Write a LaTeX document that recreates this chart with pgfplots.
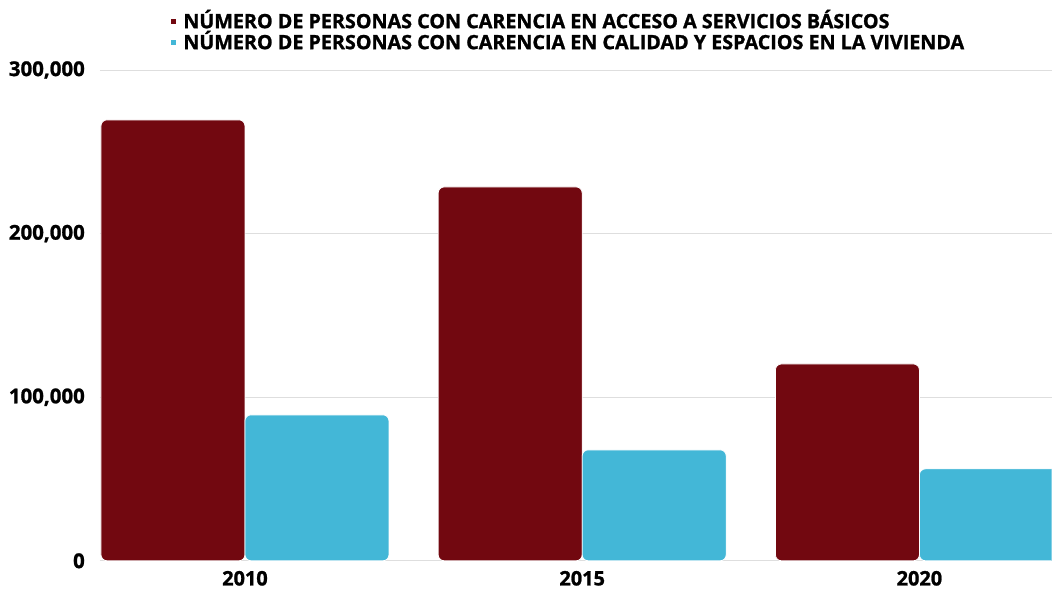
\documentclass[border=0pt]{standalone}
\usepackage{fontspec}
\setmainfont{Open Sans}[BoldFeatures={FakeBold=1.2}]
\usepackage{pgfplots}
\pgfplotsset{compat=1.18}
\definecolor{cred}{HTML}{720810}
\definecolor{cblue}{HTML}{43B7D7}
\begin{document}
\begin{tikzpicture}
\begin{axis}[
  scale only axis, width=952bp, height=491bp,
  xmin=-0.43, xmax=2.392, ymin=0, ymax=300000,
  axis line style={draw=none},
  major tick length=0pt,
  ytick={0,100000,200000,300000},
  yticklabels={0,{100,000},{200,000},{300,000}},
  ymajorgrids, grid style={draw=black!13, line width=0.8bp},
  xtick={0,1,2}, xticklabels={2010,2015,2020},
  scaled y ticks=false,
  yticklabel style={font=\bfseries\fontsize{20.5}{20.5}\selectfont, inner sep=0pt, anchor=east, xshift=-15bp},
  xticklabel style={font=\bfseries\fontsize{20}{20}\selectfont, inner sep=0pt, anchor=north, yshift=-10bp},
  ybar, bar width=0.427,
  legend style={at={(0.0735,1)}, anchor=north west, yshift=59.5bp, draw=none, fill=none,
    inner sep=0pt, row sep=0bp, column sep=3bp,
    nodes={font=\bfseries\fontsize{19.8}{21}\selectfont, inner sep=3.5bp, text height=14bp, text depth=0pt}},
  legend cell align=left,
  legend image code/.code={\fill[#1, sharp corners] (0bp,-3bp) rectangle (6bp,3bp);},
]
\addplot[fill=cred, draw=white, line width=0.8bp, rounded corners=6bp, bar shift=-0.2135] coordinates {(0,269500) (1,228500) (2,120300)};
\addplot[fill=cblue, draw=white, line width=0.8bp, rounded corners=6bp, bar shift=0.2135] coordinates {(0,89200) (1,67800) (2,56200)};
\legend{NÚMERO DE PERSONAS CON CARENCIA EN ACCESO A SERVICIOS BÁSICOS, NÚMERO DE PERSONAS CON CARENCIA EN CALIDAD Y ESPACIOS EN LA VIVIENDA}
\end{axis}
\path (current axis.south west) ++(-100bp,-29bp) (current axis.north east) ++(0,70bp);
\end{tikzpicture}
\end{document}
